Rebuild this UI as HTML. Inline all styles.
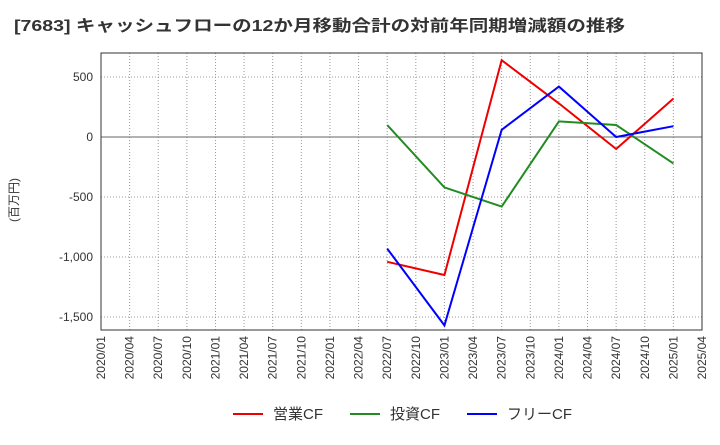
<!DOCTYPE html>
<html><head><meta charset="utf-8"><style>
body{margin:0;background:#fff;font-family:"Liberation Sans","Noto Sans CJK JP",sans-serif;}
svg text{font-family:"Liberation Sans","Noto Sans CJK JP",sans-serif;}
</style></head><body>
<svg id="chart" width="720" height="440">
<text x="14" y="31" font-size="16" font-weight="bold" fill="#333" textLength="611" lengthAdjust="spacingAndGlyphs">[7683]  キャッシュフローの12か月移動合計の対前年同期増減額の推移</text>
<text transform="translate(18,200) rotate(-90)" font-size="12" fill="#333" text-anchor="middle">(百万円)</text>
<g id="grid"></g><g id="series"></g><g id="axes"></g>
<g>
<line x1="233" y1="414" x2="263" y2="414" stroke="#e00" stroke-width="2"/><text x="273" y="419" font-size="15" fill="#333">営業CF</text>
<line x1="350" y1="414" x2="380" y2="414" stroke="#228b22" stroke-width="2"/><text x="390" y="419" font-size="15" fill="#333">投資CF</text>
<line x1="467" y1="414" x2="497" y2="414" stroke="#00f" stroke-width="2"/><text x="507" y="419" font-size="15" fill="#333">フリーCF</text>
</g>
</svg>
<script>
const xLabels=["2020/01","2020/04","2020/07","2020/10","2021/01","2021/04","2021/07","2021/10","2022/01","2022/04","2022/07","2022/10","2023/01","2023/04","2023/07","2023/10","2024/01","2024/04","2024/07","2024/10","2025/01","2025/04"];
const yTicks=[500,0,-500,-1000,-1500];
const yTickLabels=["500","0","-500","-1,000","-1,500"];
const pointIdx=[10,12,14,16,18,20];
const opCF=[-1040,-1150,640,280,-100,320];
const invCF=[100,-420,-580,130,100,-220];
const freeCF=[-930,-1570,60,420,0,90];
const L=101,R=702,T=53,B=330;
const xs=i=>L+i*(R-L)/(xLabels.length-1);
const ys=v=>137-v*60/500;
const NS="http://www.w3.org/2000/svg";
function mk(tag,attrs,parent){const e=document.createElementNS(NS,tag);for(const k in attrs)e.setAttribute(k,attrs[k]);document.getElementById(parent).appendChild(e);return e;}
const bg=mk("rect",{x:L,y:T,width:R-L,height:B-T,fill:"none",stroke:"#333"},"axes");


xLabels.forEach((l,i)=>{
 const g=mk("line",{x1:xs(i),x2:xs(i),y1:T,y2:B,stroke:"#999","stroke-dasharray":"1,2"},"grid");
 
 
 const t=mk("text",{x:0,y:0,"font-size":"12",fill:"#333","text-anchor":"end",transform:`translate(${xs(i)+4},${B+6}) rotate(-90)`},"axes");
 t.textContent=l;
 
 
});
yTicks.forEach((v,i)=>{
 const g=mk("line",{x1:L,x2:R,y1:ys(v),y2:ys(v),stroke:v===0?"#666":"#999","stroke-dasharray":v===0?"none":"1,2"},"grid");
 
 
 const t=mk("text",{x:L-8,y:ys(v)+4,"font-size":"12",fill:"#333","text-anchor":"end"},"axes");
 t.textContent=yTickLabels[i];
 
 
});
[[opCF,"#e00","operating-cf-line"],[invCF,"#228b22","investing-cf-line"],[freeCF,"#00f","free-cf-line"]].forEach(([d,c,n])=>{
 const p=mk("polyline",{points:d.map((v,i)=>xs(pointIdx[i])+","+ys(v)).join(" "),fill:"none",stroke:c,"stroke-width":2},"series");
 
 
});
</script>
</body></html>
